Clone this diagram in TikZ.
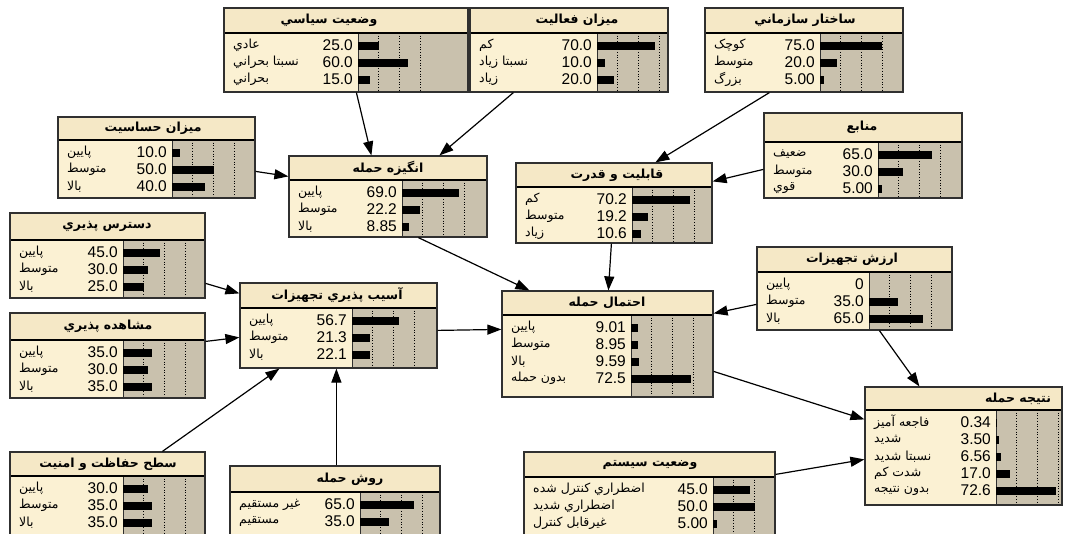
\documentclass[tikz,border=0pt]{standalone}
\usepackage{fontspec}
\setmainfont{Liberation Sans}
\newfontfamily\fa[Script=Arabic]{DejaVu Sans}
\TeXXeTstate=1
\usetikzlibrary{calc,fit,arrows.meta}
\definecolor{bntitlec}{HTML}{F5E8C6}
\definecolor{bnbodyc}{HTML}{FBF1D3}
\definecolor{bnbarc}{HTML}{C9C1AD}
\definecolor{bnedgec}{HTML}{303030}
\tikzset{
  bngrid/.style={black, line width=0.7pt, dotted},
  bnlabel/.style={inner sep=0pt, anchor=west, font=\fa\fontsize{12.5}{13}\selectfont},
  bnval/.style={inner sep=0pt, anchor=east, font=\fontsize{15.5}{16}\selectfont},
  bntitle/.style={inner sep=0pt, font=\fa\bfseries\fontsize{12.5}{13}\selectfont},
  arr/.style={black, line width=1.2pt, -{Triangle[length=14pt,width=10pt]}}
}
\newcommand\bnbox[9]{%
  \def\bname{#1}\def\bxa{#2}\def\bxbar{#7}\def\byt{#6}%
  \fill[bntitlec] (#2,#3) rectangle (#4,#6);
  \fill[bnbodyc] (#2,#6) rectangle (#7,#5);
  \fill[bnbarc] (#7,#6) rectangle (#4,#5);
  \foreach \g in {0.25,0.5,0.75} \draw[bngrid] ({#7+\g*83},#6) -- ({#7+\g*83},#5);
  \draw[line width=0.8pt, bnedgec] (#7,#6) -- (#7,#5);
  \draw[line width=1.8pt] (#2,#6) -- (#4,#6);
  \node[fit={(#2,#3) (#4,#5)}, inner sep=0pt, draw=bnedgec, line width=1.2pt] (#1) {};
  \node[bntitle] (#1-t) at (#8,{(#3+#6)/2}) {#9};
}
\newcommand\bnrow[4]{%
  \pgfmathsetmacro\ry{\byt+12.5+(#1-1)*17}%
  \node[bnlabel] (\bname-l#1) at (\bxa+9,\ry) {#2};
  \node[bnval] (\bname-v#1) at (\bxbar-5,\ry) {#3};
  \fill (\bxbar,\ry-4) rectangle ({\bxbar+#4*0.83},\ry+4);
}
\begin{document}
\begin{tikzpicture}[x=1pt,y=-1pt]
\useasboundingbox (0,0) rectangle (1067,533);
\clip (0,0) rectangle (1067,533);
\fill[white] (0,0) rectangle (1067,533);

\bnbox{siyasi}{224}{8}{468}{92}{33}{358}{329}{\beginR وضعيت سياسي\endR}
\bnrow{1}{\beginR عادي\endR}{25.0}{25}
\bnrow{2}{\beginR نسبتا بحراني\endR}{60.0}{60}
\bnrow{3}{\beginR بحراني\endR}{15.0}{15}

\bnbox{faaliyat}{470}{8}{668}{92}{33}{597}{577}{\beginR ميزان فعاليت\endR}
\bnrow{1}{\beginR کم\endR}{70.0}{70}
\bnrow{2}{\beginR نسبتا زياد\endR}{10.0}{10}
\bnrow{3}{\beginR زياد\endR}{20.0}{20}

\bnbox{sakhtar}{705}{8}{903}{92}{33}{820}{805}{\beginR ساختار سازماني\endR}
\bnrow{1}{\beginR کوچک\endR}{75.0}{75}
\bnrow{2}{\beginR متوسط\endR}{20.0}{20}
\bnrow{3}{\beginR بزرگ\endR}{5.00}{5}

\bnbox{hasasiyat}{58}{117}{255}{198}{140}{172}{153}{\beginR ميزان حساسيت\endR}
\bnrow{1}{\beginR پايين\endR}{10.0}{10}
\bnrow{2}{\beginR متوسط\endR}{50.0}{50}
\bnrow{3}{\beginR بالا\endR}{40.0}{40}

\bnbox{angizeh}{289}{156}{487}{237}{180}{402}{388}{\beginR انگيزه حمله\endR}
\bnrow{1}{\beginR پايين\endR}{69.0}{69}
\bnrow{2}{\beginR متوسط\endR}{22.2}{22.2}
\bnrow{3}{\beginR بالا\endR}{8.85}{8.85}

\bnbox{qabiliyat}{516}{163}{712}{243}{187}{632}{617}{\beginR قابليت و قدرت\endR}
\bnrow{1}{\beginR کم\endR}{70.2}{70.2}
\bnrow{2}{\beginR متوسط\endR}{19.2}{19.2}
\bnrow{3}{\beginR زياد\endR}{10.6}{10.6}

\bnbox{manabe}{764}{113}{962}{198}{142}{878}{862}{\beginR منابع\endR}
\bnrow{1}{\beginR ضعيف\endR}{65.0}{65}
\bnrow{2}{\beginR متوسط\endR}{30.0}{30}
\bnrow{3}{\beginR قوي\endR}{5.00}{5}

\bnbox{dastres}{10}{213}{205}{298}{240}{123}{107}{\beginR دسترس پذيري\endR}
\bnrow{1}{\beginR پايين\endR}{45.0}{45}
\bnrow{2}{\beginR متوسط\endR}{30.0}{30}
\bnrow{3}{\beginR بالا\endR}{25.0}{25}

\bnbox{moshahede}{10}{313}{205}{398}{340}{123}{108}{\beginR مشاهده پذيري\endR}
\bnrow{1}{\beginR پايين\endR}{35.0}{35}
\bnrow{2}{\beginR متوسط\endR}{30.0}{30}
\bnrow{3}{\beginR بالا\endR}{35.0}{35}

\bnbox{asib}{240}{283}{437}{368}{308}{352}{337}{\beginR آسيب پذيري تجهيزات\endR}
\bnrow{1}{\beginR پايين\endR}{56.7}{56.7}
\bnrow{2}{\beginR متوسط\endR}{21.3}{21.3}
\bnrow{3}{\beginR بالا\endR}{22.1}{22.1}

\bnbox{ehtemal}{502}{291}{713}{397}{315}{631}{607}{\beginR احتمال حمله\endR}
\bnrow{1}{\beginR پايين\endR}{9.01}{9.01}
\bnrow{2}{\beginR متوسط\endR}{8.95}{8.95}
\bnrow{3}{\beginR بالا\endR}{9.59}{9.59}
\bnrow{4}{\beginR بدون حمله\endR}{72.5}{72.5}

\bnbox{arzesh}{757}{247}{952}{330}{272}{869}{852}{\beginR ارزش تجهيزات\endR}
\bnrow{1}{\beginR پايين\endR}{0}{0}
\bnrow{2}{\beginR متوسط\endR}{35.0}{35}
\bnrow{3}{\beginR بالا\endR}{65.0}{65}

\bnbox{natije}{865}{387}{1062}{505}{410}{996}{1018}{\beginR نتيجه حمله\endR}
\bnrow{1}{\beginR فاجعه آميز\endR}{0.34}{0.6}
\bnrow{2}{\beginR شديد\endR}{3.50}{3.5}
\bnrow{3}{\beginR نسبتا شديد\endR}{6.56}{6.56}
\bnrow{4}{\beginR شدت کم\endR}{17.0}{17}
\bnrow{5}{\beginR بدون نتيجه\endR}{72.6}{72.6}

\bnbox{sath}{10}{452}{205}{545}{476}{123}{108}{\beginR سطح حفاظت و امنيت\endR}
\bnrow{1}{\beginR پايين\endR}{30.0}{30}
\bnrow{2}{\beginR متوسط\endR}{35.0}{35}
\bnrow{3}{\beginR بالا\endR}{35.0}{35}

\bnbox{ravesh}{230}{466}{440}{545}{492}{360}{350}{\beginR روش حمله\endR}
\bnrow{1}{\beginR غير مستقيم\endR}{65.0}{65}
\bnrow{2}{\beginR مستقيم\endR}{35.0}{35}

\bnbox{system}{524}{452}{775}{545}{477}{713}{650}{\beginR وضعيت سيستم\endR}
\bnrow{1}{\beginR اضطراري کنترل شده\endR}{45.0}{45}
\bnrow{2}{\beginR اضطراري شديد\endR}{50.0}{50}
\bnrow{3}{\beginR غيرقابل کنترل\endR}{5.00}{5}

\draw[arr] ($(siyasi.south west)+(133,0)$) -- ($(angizeh.north west)+(83,0)$);
\draw[arr] ($(faaliyat.south west)+(44,0)$) -- ($(angizeh.north west)+(151,0)$);
\draw[arr] ($(sakhtar.south west)+(65,0)$) -- ($(qabiliyat.north west)+(140,0)$);
\draw[arr] ($(manabe.north west)+(0,57)$) -- ($(qabiliyat.north east)+(0,19)$);
\draw[arr] ($(hasasiyat.north east)+(0,55)$) -- ($(angizeh.north west)+(0,21)$);
\draw[arr] ($(angizeh.south west)+(130,0)$) -- ($(ehtemal.north west)+(28,0)$);
\draw[arr] ($(qabiliyat.south west)+(96,0)$) -- ($(ehtemal.north west)+(107,0)$);
\draw[arr] ($(arzesh.north west)+(0,58)$) -- ($(ehtemal.north east)+(0,23)$);
\draw[arr] ($(arzesh.south west)+(123,0)$) -- ($(natije.north west)+(55,0)$);
\draw[arr] ($(ehtemal.north east)+(0,81)$) -- ($(natije.north west)+(0,33)$);
\draw[arr] ($(dastres.north east)+(0,71)$) -- ($(asib.north west)+(0,11)$);
\draw[arr] ($(moshahede.north east)+(0,29)$) -- ($(asib.north west)+(0,55)$);
\draw[arr] ($(asib.north east)+(0,48)$) -- ($(ehtemal.north west)+(0,39)$);
\draw[arr] ($(sath.north west)+(153,0)$) -- ($(asib.south west)+(40,0)$);
\draw[arr] ($(ravesh.north west)+(107,0)$) -- ($(asib.south west)+(97,0)$);
\draw[arr] ($(system.north east)+(0,23)$) -- ($(natije.north west)+(0,73)$);
\end{tikzpicture}
\end{document}
